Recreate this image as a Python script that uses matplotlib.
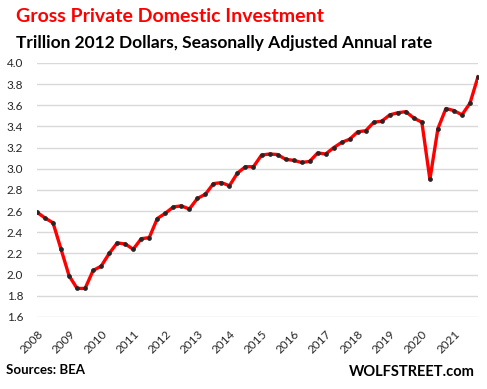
import matplotlib
matplotlib.use("Agg")
import matplotlib.pyplot as plt

plt.rcParams['font.family'] = ['Lato', 'DejaVu Sans']

years = [str(y) for y in range(2008, 2022)]
quarters = [f"{y}Q{q}" for y in range(2008, 2022) for q in range(1, 5)]
values = [
    2.59, 2.535, 2.49, 2.24, 1.99, 1.87, 1.87, 2.04,
    2.08, 2.20, 2.30, 2.29, 2.24, 2.34, 2.35, 2.53,
    2.58, 2.64, 2.65, 2.62, 2.72, 2.76, 2.86, 2.87,
    2.84, 2.96, 3.02, 3.02, 3.13, 3.14, 3.135, 3.09,
    3.08, 3.06, 3.07, 3.15, 3.14, 3.20, 3.25, 3.28,
    3.35, 3.36, 3.44, 3.45, 3.51, 3.53, 3.54, 3.48,
    3.44, 2.90, 3.38, 3.57, 3.55, 3.51, 3.62, 3.87,
]
yticks = [1.6, 1.8, 2.0, 2.2, 2.4, 2.6, 2.8, 3.0, 3.2, 3.4, 3.6, 3.8, 4.0]

fig = plt.figure(figsize=(4.87, 3.89), dpi=100)
ax = fig.add_axes([37/487, 1-317/389, (478-37)/487, (317-63)/389])

x = list(range(len(values)))
ax.plot(x, values, color='#ff0000', lw=2.4, solid_joinstyle='round', zorder=3)
ax.plot(x, values, 'o', color='#262626', ms=2.4, zorder=4)

ax.set_ylim(1.6, 4.0)
ax.set_xlim(0, len(values) - 1)
ax.set_yticks(yticks)
ax.set_yticklabels([f"{v:.1f}" for v in yticks], fontsize=8.5, color='#262626')
ax.set_xticks(list(range(0, len(values), 4)))
ax.set_xticklabels(years, rotation=45, ha='right', va='top', rotation_mode='anchor',
                   fontsize=8.5, color='#262626')
ax.tick_params(axis='both', length=0, pad=10)
ax.tick_params(axis='x', pad=8)
ax.grid(axis='y', color='#d9d9d9', lw=1)
ax.set_axisbelow(True)
for s in ax.spines.values():
    s.set_visible(False)

fig.text(16/487, 1-17/389, "Gross Private Domestic Investment", color='#ff0000',
         fontsize=14, fontweight='bold', va='center', ha='left')
fig.text(16/487, 1-43/389, "Trillion 2012 Dollars, Seasonally Adjusted Annual rate",
         color='black', fontsize=12.5, fontweight='bold', va='center', ha='left')
fig.text(6/487, 1-370/389, "Sources: BEA", color='black', fontsize=9.5,
         fontweight='bold', va='center', ha='left')
fig.text(475/487, 1-372/389, "WOLFSTREET.com", color='black', fontsize=10.5,
         fontweight='bold', va='center', ha='right')

fig.savefig('out.png', dpi=100)
